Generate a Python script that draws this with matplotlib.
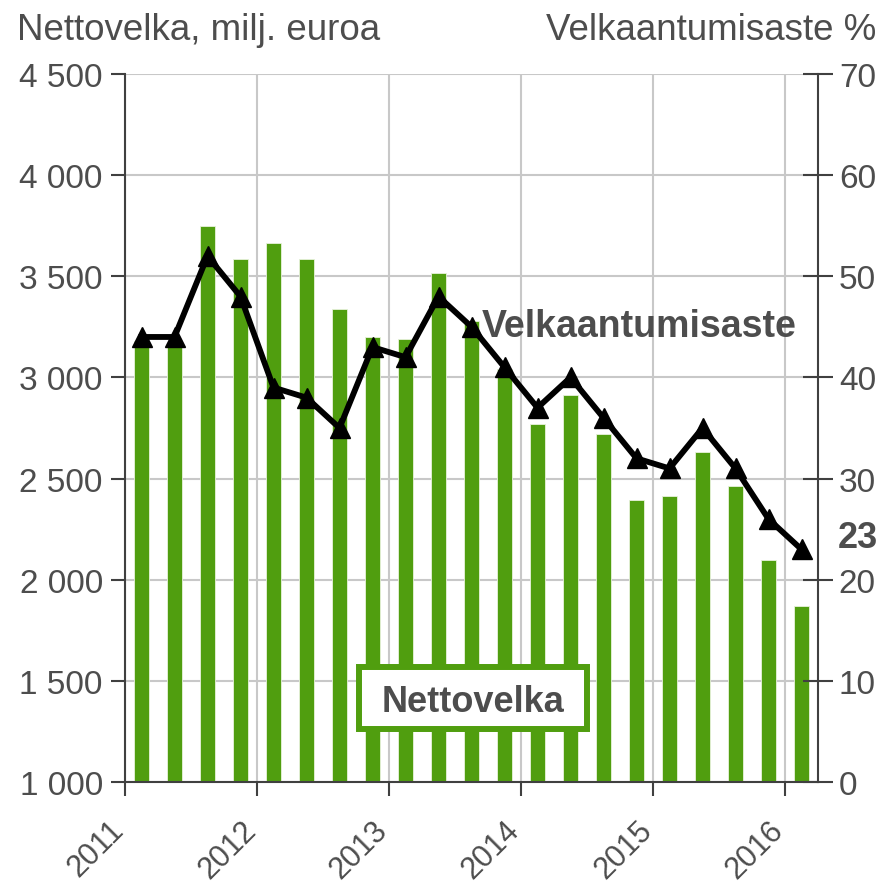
import matplotlib
matplotlib.use("Agg")
import matplotlib.pyplot as plt
from matplotlib.patches import Rectangle
import numpy as np

plt.rcParams["font.family"] = ["Liberation Sans", "DejaVu Sans"]

# Data: quarterly, 2011 Q1 .. 2016 Q1
quarters = ["2011Q1", "2011Q2", "2011Q3", "2011Q4",
            "2012Q1", "2012Q2", "2012Q3", "2012Q4",
            "2013Q1", "2013Q2", "2013Q3", "2013Q4",
            "2014Q1", "2014Q2", "2014Q3", "2014Q4",
            "2015Q1", "2015Q2", "2015Q3", "2015Q4",
            "2016Q1"]
nettovelka = [3180, 3170, 3750, 3585, 3665, 3585, 3338, 3200, 3190, 3516, 3280,
              3040, 2770, 2913, 2720, 2394, 2414, 2631, 2463, 2097, 1870]
velkaantumisaste = [44, 44, 52, 48, 39, 38, 35, 43, 42, 48, 45,
                    41, 37, 40, 36, 32, 31, 35, 31, 26, 23]
year_ticks = [2011, 2012, 2013, 2014, 2015, 2016]
left_ticks = [1000, 1500, 2000, 2500, 3000, 3500, 4000, 4500]
left_labels = ["1 000", "1 500", "2 000", "2 500", "3 000", "3 500", "4 000", "4 500"]
right_ticks = [0, 10, 20, 30, 40, 50, 60, 70]

green = "#509E0F"
text_col = "#4D4D4D"
spine_col = "#404040"

# mid-quarter positions in decimal years
x = np.array([int(q[:4]) + (int(q[-1]) - 0.5) / 4 for q in quarters])

fig = plt.figure(figsize=(8.83, 8.87), dpi=100)
ax = fig.add_axes([125 / 883, 1 - 783 / 887, 693 / 883, 708 / 887])

ax.bar(x, nettovelka, width=0.115, bottom=0, color=green, edgecolor="#E8F2DC",
       linewidth=0.6, zorder=2)
ax.set_ylim(1000, 4500)
ax.set_xlim(2011, 2016.25)
ax.set_xticks(year_ticks)
ax.set_xticklabels([str(y) for y in year_ticks], rotation=45, ha="right",
                   va="baseline", rotation_mode="anchor")
ax.set_yticks(left_ticks)
ax.set_yticklabels(left_labels)
ax.grid(True, color="#C8C8C8", linewidth=1.5, zorder=0)
ax.set_axisbelow(True)

ax2 = ax.twinx()
ax2.plot(x, velkaantumisaste, color="black", linewidth=4.2, marker="^",
         markersize=15, zorder=5)
ax2.set_ylim(0, 70)
ax2.set_yticks(right_ticks)

for a in (ax, ax2):
    a.spines["top"].set_visible(False)
    for s in ("left", "right", "bottom"):
        a.spines[s].set_color(spine_col)
        a.spines[s].set_linewidth(1.5)
ax2.spines["left"].set_visible(False)
ax2.spines["bottom"].set_visible(False)
ax.spines["right"].set_visible(False)

ax.tick_params(axis="y", direction="out", length=10, width=1.5, color=spine_col,
               labelsize=24, labelcolor=text_col, pad=6)
ax.tick_params(axis="x", direction="out", length=10, width=1.5, color=spine_col,
               labelsize=22, labelcolor=text_col, pad=25)
ax2.tick_params(axis="y", direction="inout", length=22, width=1.5, color=spine_col,
                labelsize=24, labelcolor=text_col, pad=4)

fig.text(17 / 883, 1 - 40 / 887, "Nettovelka, milj. euroa", fontsize=26.5,
         color=text_col, ha="left", va="baseline")
fig.text(876 / 883, 1 - 40 / 887, "Velkaantumisaste %", fontsize=26.5,
         color=text_col, ha="right", va="baseline")

ax2.text(2016.09, 44.1, "Velkaantumisaste", fontsize=27, fontweight="bold",
         color=text_col, ha="right", va="baseline", zorder=6)
ax2.annotate("23", xy=(1.0, 23.2), xycoords=("axes fraction", "data"),
             xytext=(14.4, 0), textcoords="offset points", fontsize=26,
             fontweight="bold", color=text_col, ha="left", va="baseline",
             annotation_clip=False)

# label box for the bars
ax.add_patch(Rectangle(((359 - 125) / 693, (783 - 730) / 708), 228 / 693, 62 / 708,
                       transform=ax.transAxes, facecolor="white", edgecolor=green,
                       linewidth=4.3, zorder=6))
ax.text((473 - 125) / 693, (783 - 712) / 708, "Nettovelka", transform=ax.transAxes,
        fontsize=26, fontweight="bold", color=text_col, ha="center",
        va="baseline", zorder=7)

fig.savefig("out.png", dpi=100)
